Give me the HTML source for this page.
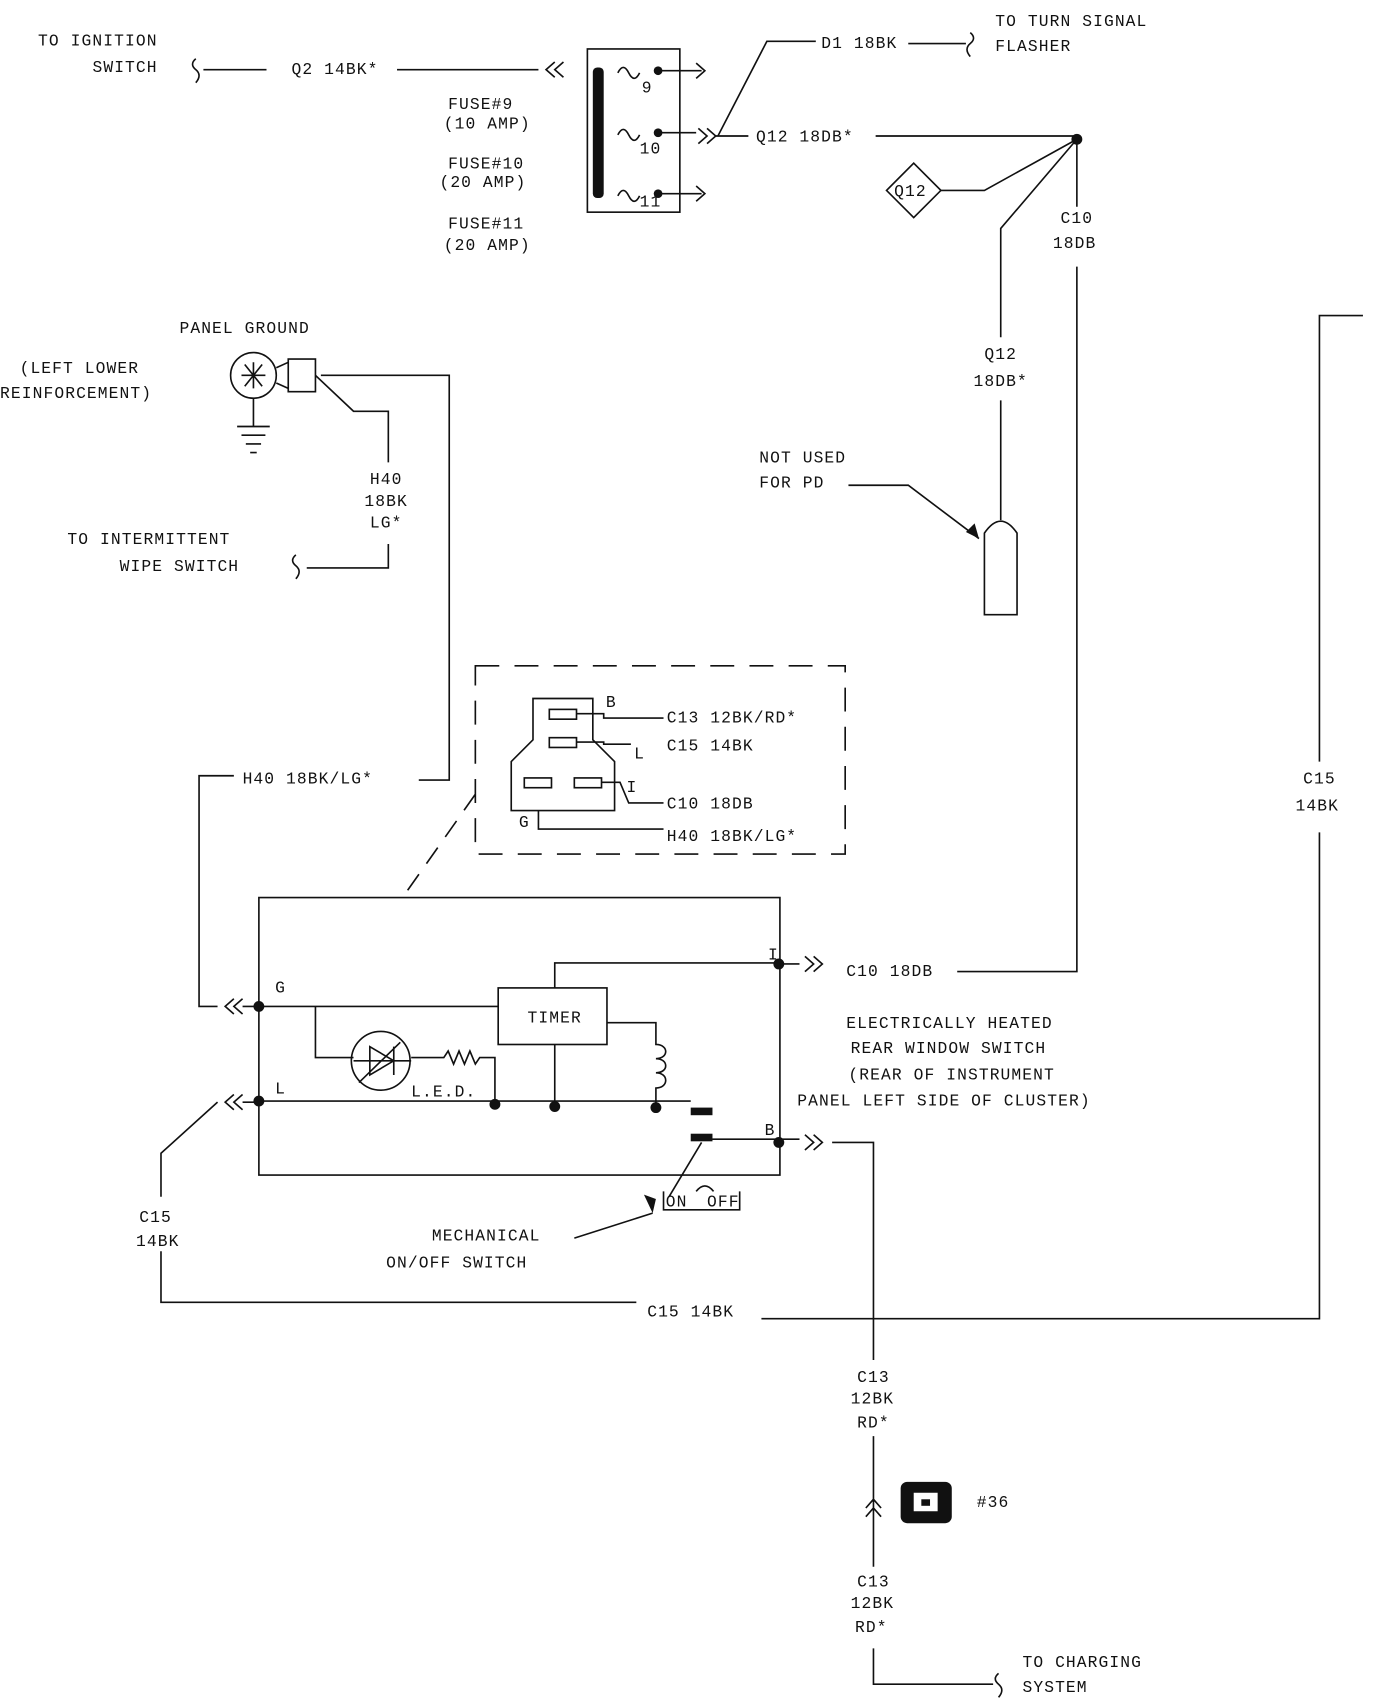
<!DOCTYPE html>
<html><head><meta charset="utf-8"><style>
html,body{margin:0;padding:0;background:#fff;}
svg{display:block}
text{font-family:"Liberation Mono",monospace;font-size:15px;fill:#111;letter-spacing:1px}
</style></head><body>
<svg width="1376" height="1706" viewBox="0 0 1265 1568" preserveAspectRatio="none" xmlns="http://www.w3.org/2000/svg">
<g stroke="#111" stroke-width="1.5" fill="none">
<!-- top ignition -->
<path d="M180,54 q-6,5 0,10 q6,5 0,12"/>
<path d="M187,64 H245 M365,64 H495"/>
<path d="M510,57 l-8,7 l8,7 M518,57 l-8,7 l8,7"/>
<rect x="540" y="45" width="85" height="150"/>
<path d="M568,67 q5,-10 10,0 q5,10 10,0 M568,124 q5,-10 10,0 q5,10 10,0 M568,180 q5,-10 10,0 q5,10 10,0"/>
<path d="M605,65 H645 M605,122 H640 M605,178 H645"/>
<path d="M640,58 l8,7 l-8,7 M640,171 l8,7 l-8,7"/>
<path d="M642,118 l8,7 l-8,7 M650,118 l8,7 l-8,7"/>
<path d="M658,125 H688 M805,125 H990"/>
<path d="M660,125 L705,38 H750 M835,40 H888"/>
<path d="M892,30 q6,5 0,10 q-6,5 0,12"/>
<path d="M815,175 l25,-25 l25,25 l-25,25 z"/>
<path d="M865,175 H905 L990,128 M990,128 L920,210 V310 M920,368 V478"/>
<path d="M990,128 V190 M990,245 V893 H880"/>
<path d="M905,565 V490 q15,-22 30,0 V565 z"/>
<path d="M780,446 H835 L900,495"/>
<path d="M1253,290 H1213 V700 M1213,765 V1212 H700"/>
<path d="M585,1197 H148 V1150 M148,1100 V1060 L200,1013"/>
<path d="M215,1006 l-8,7 l8,7 M223,1006 l-8,7 l8,7 M223,1013 H238"/>
<!-- panel ground -->
<circle cx="233" cy="345" r="21"/>
<rect x="265" y="330" width="25" height="30"/>
<path d="M254,338 L265,333 M254,352 L265,357"/>
<path d="M233,366 V392 M218,392 H248 M222,400 H244 M226,408 H240 M230,416 H236"/>
<path d="M225,335 l16,20 M241,335 l-16,20 M222,345 H244 M233,333 V357"/>
<path d="M290,345 L325,378 H357 V425 M357,500 V522 H282"/>
<path d="M272,510 q-6,5 0,10 q6,5 0,12"/>
<path d="M295,345 H413 V717 H385 M215,713 H183 V925 H200"/>
<path d="M215,918 l-8,7 l8,7 M223,918 l-8,7 l8,7 M223,925 H238"/>
<!-- dashed box -->
<rect x="437" y="612" width="340" height="173" stroke-dasharray="22,14"/>
<path d="M437,730 L370,825" stroke-dasharray="18,12"/>
<path d="M490,642 H545 V680 L565,700 V745 H470 V700 L490,680 Z"/>
<rect x="505" y="652" width="25" height="9"/><rect x="505" y="678" width="25" height="9"/>
<rect x="482" y="715" width="25" height="9"/><rect x="528" y="715" width="25" height="9"/>
<path d="M530,656 H555 V660 H610 M530,682 H555 V684 H580 M553,719 H570 L578,738 H610 M495,745 V762 H610"/>
<!-- main box -->
<path d="M238,825 H717 V1080 H238 Z"/>
<path d="M238,925 H458"/>
<rect x="458" y="908" width="100" height="52"/>
<path d="M510,908 V885 H716 M716,886 H735"/>
<path d="M740,879 l8,7 l-8,7 M748,879 l8,7 l-8,7"/>
<path d="M290,925 V972 H325"/>
<circle cx="350" cy="975" r="27"/>
<path d="M325,975 H378 M340,962 V988 L362,975 Z M362,962 V988 M330,995 L368,958"/>
<path d="M378,972 H408 l4,-6 l5,12 l5,-12 l5,12 l5,-12 l5,12 l4,-6 H455 V1015"/>
<path d="M238,1012 H635 M510,960 V1017"/>
<path d="M558,940 H603 V960 c12,0 12,13 0,13 c12,0 12,13 0,13 c12,0 12,14 0,14 V1018"/>
<path d="M655,1047 H735 M765,1050 H803 V1250"/>
<path d="M740,1043 l8,7 l-8,7 M748,1043 l8,7 l-8,7"/>
<path d="M645,1050 L615,1100"/>
<path d="M610,1095 V1112 H680 V1095 M640,1095 q8,-10 16,0"/>
<path d="M528,1138 L600,1115"/>
<path d="M803,1320 V1440 M796,1386 l7,-8 l7,8 M796,1394 l7,-8 l7,8"/>
<path d="M803,1515 V1548 H913"/>
<path d="M918,1538 q-6,5 0,10 q6,5 0,12"/>
</g>
<g fill="#111">
<rect x="545" y="62" width="10" height="120" rx="4"/>
<circle cx="605" cy="65" r="4"/><circle cx="605" cy="122" r="4"/><circle cx="605" cy="178" r="4"/>
<circle cx="990" cy="128" r="5"/>
<circle cx="238" cy="925" r="5"/><circle cx="238" cy="1012" r="5"/>
<circle cx="716" cy="886" r="5"/><circle cx="716" cy="1050" r="5"/>
<circle cx="455" cy="1015" r="5"/><circle cx="510" cy="1017" r="5"/><circle cx="603" cy="1018" r="5"/>
<rect x="635" y="1018" width="20" height="7"/><rect x="635" y="1042" width="20" height="7"/>
<path d="M592,1098 l8,17 l3,-13 z"/>
<path d="M900,495 l-4,-14 l-8,8 z"/>
<rect x="828" y="1362" width="47" height="38" rx="6"/>
</g>
<rect x="840" y="1372" width="22" height="17" fill="#fff"/>
<rect x="847" y="1378" width="8" height="6" fill="#111"/>
<text x="35" y="42">TO IGNITION</text><text x="85" y="66">SWITCH</text>
<text x="268" y="68">Q2 14BK*</text>
<text x="590" y="85" font-size="13">9</text><text x="588" y="141" font-size="13">10</text><text x="588" y="190" font-size="13">11</text>
<text x="412" y="100">FUSE#9</text><text x="408" y="118">(10 AMP)</text>
<text x="412" y="155">FUSE#10</text><text x="404" y="172">(20 AMP)</text>
<text x="412" y="210">FUSE#11</text><text x="408" y="230">(20 AMP)</text>
<text x="695" y="130">Q12 18DB*</text>
<text x="755" y="44">D1 18BK</text>
<text x="915" y="24">TO TURN SIGNAL</text><text x="915" y="47">FLASHER</text>
<text x="822" y="180" font-size="13">Q12</text>
<text x="975" y="205">C10</text><text x="968" y="228">18DB</text>
<text x="905" y="330">Q12</text><text x="895" y="355">18DB*</text>
<text x="698" y="425">NOT USED</text><text x="698" y="448">FOR PD</text>
<text x="165" y="306">PANEL GROUND</text>
<text x="18" y="343">(LEFT LOWER</text><text x="0" y="366">REINFORCEMENT)</text>
<text x="340" y="445">H40</text><text x="335" y="465">18BK</text><text x="340" y="485">LG*</text>
<text x="62" y="500">TO INTERMITTENT</text><text x="110" y="525">WIPE SWITCH</text>
<text x="223" y="720">H40 18BK/LG*</text>
<text x="557" y="650" font-size="13">B</text><text x="613" y="664">C13 12BK/RD*</text>
<text x="583" y="697" font-size="13">L</text><text x="613" y="690">C15 14BK</text>
<text x="576" y="728" font-size="13">I</text><text x="613" y="743">C10 18DB</text>
<text x="477" y="760" font-size="13">G</text><text x="613" y="773">H40 18BK/LG*</text>
<text x="253" y="912" font-size="13">G</text><text x="253" y="1005" font-size="13">L</text>
<text x="706" y="882" font-size="13">I</text><text x="703" y="1043" font-size="13">B</text>
<text x="485" y="940">TIMER</text>
<text x="378" y="1008" font-size="13">L.E.D.</text>
<text x="778" y="897">C10 18DB</text>
<text x="778" y="945">ELECTRICALLY HEATED</text>
<text x="782" y="968">REAR WINDOW SWITCH</text>
<text x="780" y="992">(REAR OF INSTRUMENT</text>
<text x="733" y="1016">PANEL LEFT SIDE OF CLUSTER)</text>
<text x="612" y="1109" font-size="13">ON</text><text x="650" y="1109" font-size="13">OFF</text>
<text x="397" y="1140">MECHANICAL</text><text x="355" y="1165">ON/OFF SWITCH</text>
<text x="1198" y="720">C15</text><text x="1191" y="745">14BK</text>
<text x="128" y="1123">C15</text><text x="125" y="1145">14BK</text>
<text x="595" y="1210">C15 14BK</text>
<text x="788" y="1270">C13</text><text x="782" y="1290">12BK</text><text x="788" y="1312">RD*</text>
<text x="898" y="1385">#36</text>
<text x="788" y="1458">C13</text><text x="782" y="1478">12BK</text><text x="786" y="1500">RD*</text>
<text x="940" y="1532">TO CHARGING</text><text x="940" y="1555">SYSTEM</text>
</svg>
</body></html>
